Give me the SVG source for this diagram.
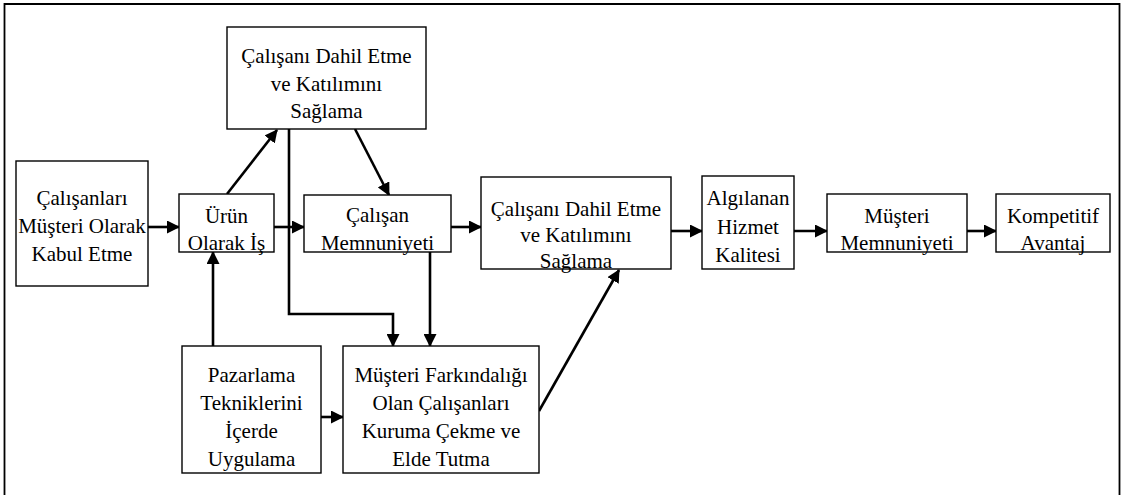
<svg xmlns="http://www.w3.org/2000/svg" width="1125" height="495" viewBox="0 0 1125 495">
<style>
.box{fill:#fff;stroke:#000;stroke-width:1.4}
.t{font-family:"Liberation Serif","Times New Roman",serif;font-size:21px;fill:#000;text-anchor:middle}
.c{fill:none;stroke:#000;stroke-width:2.6}
</style>
<defs>
<marker id="ah" markerUnits="userSpaceOnUse" markerWidth="13" markerHeight="13" refX="12" refY="6.5" orient="auto" viewBox="0 0 13 13">
<path d="M0,0 L13,6.5 L0,13 z" fill="#000"/>
</marker>
</defs>
<rect x="0" y="0" width="1125" height="495" fill="#fff"/>
<path d="M4.5,500 L4.5,4 L1119.5,4 L1119.5,500" fill="none" stroke="#000" stroke-width="1.8"/>

<g id="connectors">
<line class="c" x1="148" y1="227" x2="179" y2="227" marker-end="url(#ah)"/>
<line class="c" x1="274" y1="227" x2="304" y2="227" marker-end="url(#ah)"/>
<line class="c" x1="227" y1="194" x2="277" y2="130" marker-end="url(#ah)"/>
<line class="c" x1="355" y1="129" x2="389" y2="195" marker-end="url(#ah)"/>
<polyline class="c" points="289,129 289,314 393,314 393,346" marker-end="url(#ah)"/>
<line class="c" x1="430" y1="252" x2="430" y2="346" marker-end="url(#ah)"/>
<line class="c" x1="213" y1="346" x2="213" y2="252" marker-end="url(#ah)"/>
<line class="c" x1="321" y1="417" x2="343" y2="417" marker-end="url(#ah)"/>
<line class="c" x1="539" y1="411" x2="619" y2="270" marker-end="url(#ah)" stroke-width="2.2"/>
<line class="c" x1="451" y1="227" x2="481" y2="227" marker-end="url(#ah)"/>
<line class="c" x1="671" y1="231" x2="702" y2="231" marker-end="url(#ah)"/>
<line class="c" x1="794" y1="231" x2="827" y2="231" marker-end="url(#ah)"/>
<line class="c" x1="967" y1="231" x2="996" y2="231" marker-end="url(#ah)"/>
</g>

<g id="n1">
<rect class="box" x="227" y="27" width="199" height="102"/>
<text class="t" x="326.5" y="63">Çalışanı Dahil Etme</text>
<text class="t" x="326.5" y="91">ve Katılımını</text>
<text class="t" x="326.5" y="118">Sağlama</text>
</g>
<g id="n2">
<rect class="box" x="16" y="161" width="132" height="125"/>
<text class="t" x="82" y="205">Çalışanları</text>
<text class="t" x="82" y="233">Müşteri Olarak</text>
<text class="t" x="82" y="261">Kabul Etme</text>
</g>
<g id="n3">
<rect class="box" x="179" y="194" width="95" height="58"/>
<text class="t" x="226.5" y="223">Ürün</text>
<text class="t" x="226.5" y="250">Olarak İş</text>
</g>
<g id="n4">
<rect class="box" x="304" y="195" width="147" height="57"/>
<text class="t" x="377.5" y="222">Çalışan</text>
<text class="t" x="377.5" y="250">Memnuniyeti</text>
</g>
<g id="n5">
<rect class="box" x="481" y="177" width="190" height="92"/>
<text class="t" x="576" y="216">Çalışanı Dahil Etme</text>
<text class="t" x="576" y="242">ve Katılımını</text>
<text class="t" x="576" y="268">Sağlama</text>
</g>
<g id="n6">
<rect class="box" x="702" y="176" width="92" height="93"/>
<text class="t" x="748" y="205">Algılanan</text>
<text class="t" x="748" y="234">Hizmet</text>
<text class="t" x="748" y="262">Kalitesi</text>
</g>
<g id="n7">
<rect class="box" x="827" y="194" width="140" height="58"/>
<text class="t" x="897" y="223">Müşteri</text>
<text class="t" x="897" y="250">Memnuniyeti</text>
</g>
<g id="n8">
<rect class="box" x="996" y="194" width="114" height="58"/>
<text class="t" x="1053" y="223">Kompetitif</text>
<text class="t" x="1053" y="250">Avantaj</text>
</g>
<g id="n9">
<rect class="box" x="182" y="346" width="139" height="127"/>
<text class="t" x="251.5" y="382">Pazarlama</text>
<text class="t" x="251.5" y="410">Tekniklerini</text>
<text class="t" x="251.5" y="438">İçerde</text>
<text class="t" x="251.5" y="466">Uygulama</text>
</g>
<g id="n10">
<rect class="box" x="343" y="346" width="196" height="127"/>
<text class="t" x="441" y="382">Müşteri Farkındalığı</text>
<text class="t" x="441" y="410">Olan Çalışanları</text>
<text class="t" x="441" y="438">Kuruma Çekme ve</text>
<text class="t" x="441" y="466">Elde Tutma</text>
</g>
</svg>
